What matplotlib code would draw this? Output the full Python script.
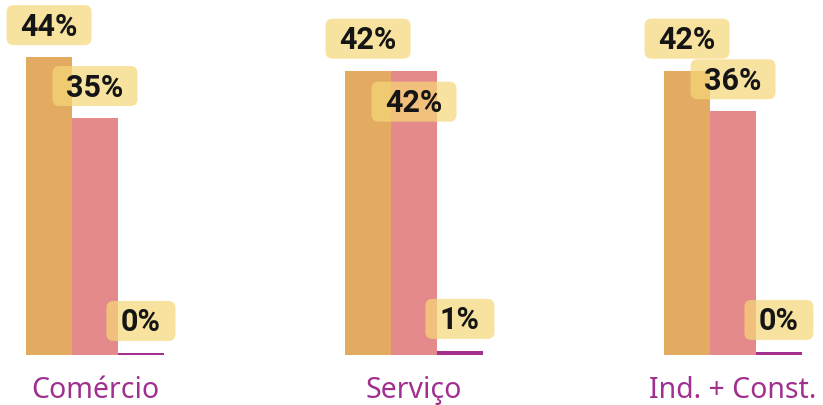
import matplotlib
matplotlib.use("Agg")
import matplotlib.pyplot as plt
from matplotlib.patches import FancyBboxPatch
from matplotlib.transforms import IdentityTransform
import numpy as np

categories = ["Comércio", "Serviço", "Ind. + Const."]
serie_a = [44, 42, 42]      # orange
serie_b = [35, 42, 36]      # pink
serie_c = [0.3, 0.6, 0.45]  # purple (tiny)
labels_a = ["44%", "42%", "42%"]
labels_b = ["35%", "42%", "36%"]
labels_c = ["0%", "1%", "0%"]

colors = ["#E3AA62", "#E58A8A", "#A3308F"]
BOX_FC = "#F5D877"
FONT = ["Noto Sans", "DejaVu Sans"]
BOLD_FONT = ["Roboto", "DejaVu Sans"]

W, H, DPI = 8.23, 4.05, 100
fig = plt.figure(figsize=(W, H), dpi=DPI)
ax = fig.add_axes([0, 50/405, 1, 355/405])
x = np.arange(len(categories))
w = 0.144
ax.set_xlim(-95/319, (823-95)/319)
ax.set_ylim(0, 355/6.77)
ax.axis("off")

series = [serie_a, serie_b, serie_c]
labs = [labels_a, labels_b, labels_c]
# label offset (pixels above bar top); collided labels pushed down
default_off = 32
special_off = {(1, 1): -31}

for i, (vals, lb) in enumerate(zip(series, labs)):
    pos = x + (i - 1) * w
    ax.bar(pos, vals, width=w, color=colors[i], zorder=2)
    for j, (p, v, t) in enumerate(zip(pos, vals, lb)):
        off = special_off.get((i, j), default_off)
        cx, cy = ax.transData.transform((p, v))
        cy = cy + off
        fig.text(cx / (W * DPI), (cy - 10.5) / (H * DPI), t,
                 ha="center", va="baseline", fontsize=22, fontweight="bold",
                 family=BOLD_FONT, color="#151515", zorder=6)
        bw = 16 * len(t) + 37
        bh = 40
        r = 7
        patch = FancyBboxPatch((cx - bw / 2 + r, cy - bh / 2 + r),
                               bw - 2 * r, bh - 2 * r,
                               boxstyle="round,pad=%f,rounding_size=%f" % (r, r),
                               transform=IdentityTransform(), fc=BOX_FC, ec="none",
                               alpha=0.7, zorder=5)
        fig.add_artist(patch)

for xi, c in zip(x, categories):
    ax.annotate(c, (xi, 0), xytext=(0, -25.5), textcoords="offset points",
                ha="center", va="center", fontsize=20.5, color="#A0308F",
                family=FONT, annotation_clip=False)

fig.savefig("out.png", dpi=DPI)
